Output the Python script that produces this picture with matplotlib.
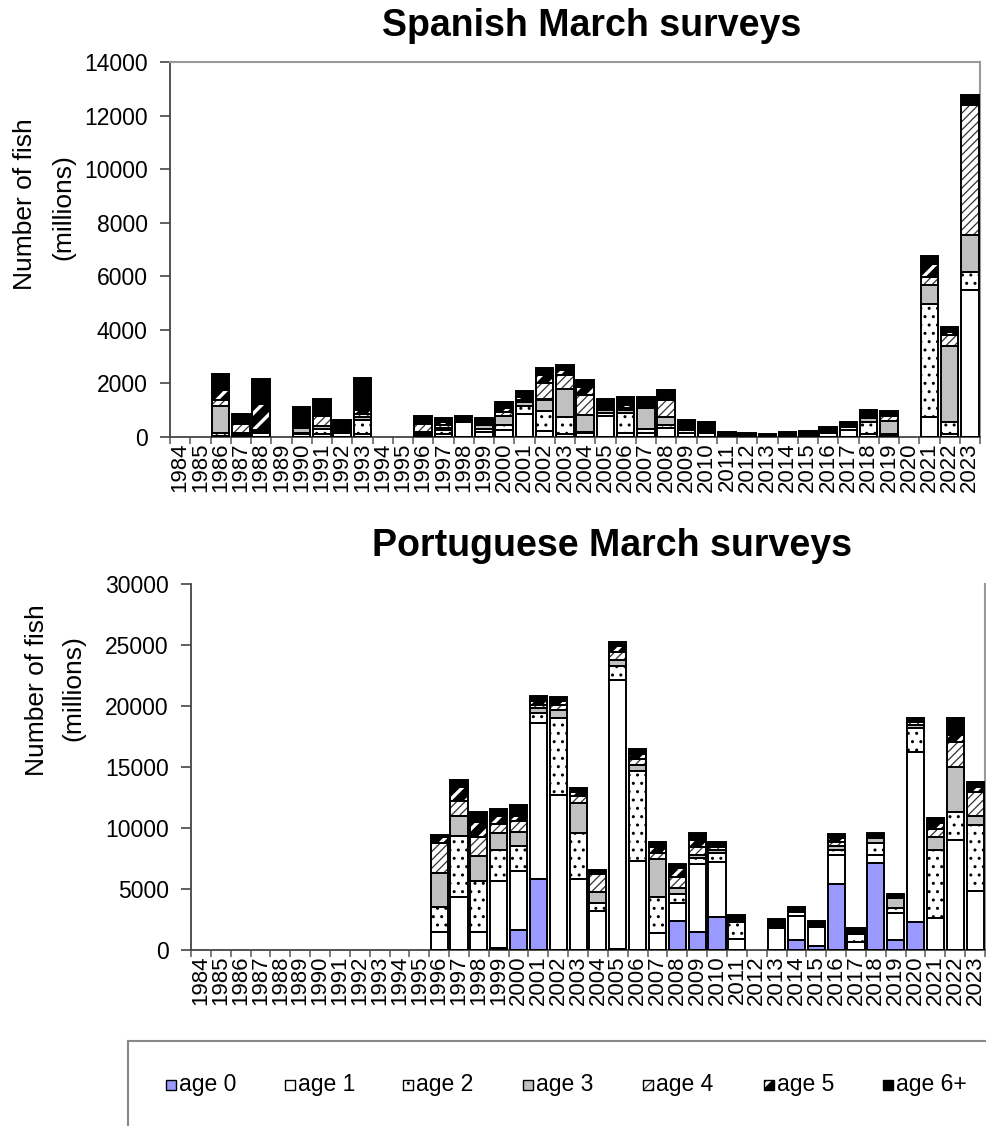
import numpy as np
import matplotlib
matplotlib.use("Agg")
import matplotlib.pyplot as plt
from matplotlib.patches import Rectangle
from matplotlib.lines import Line2D

plt.rcParams["font.family"] = ["Liberation Sans", "DejaVu Sans"]

years = list(range(1984, 2024))
age_labels = ["age 0", "age 1", "age 2", "age 3", "age 4", "age 5", "age 6+"]

# Spanish March surveys, number of fish (millions), 1984..2023
es_age0 = [0] * 40
es_age1 = [0, 0, 50, 50, 150, 0, 100, 100, 150, 100, 0, 0, 50, 100, 550, 200, 250, 850, 220, 100,
           150, 800, 150, 150, 350, 150, 150, 60, 50, 20, 60, 80, 150, 250, 100, 80, 0, 750, 100, 5500]
es_age2 = [0, 0, 100, 50, 30, 0, 50, 200, 30, 550, 0, 0, 50, 150, 30, 100, 200, 300, 750, 650,
           50, 100, 750, 150, 100, 100, 80, 30, 20, 10, 30, 40, 50, 120, 450, 30, 0, 4230, 460, 660]
es_age3 = [0, 0, 1000, 50, 20, 0, 200, 100, 30, 100, 0, 0, 100, 100, 20, 150, 350, 150, 430, 1050,
           620, 100, 100, 780, 280, 80, 50, 10, 10, 10, 10, 20, 30, 40, 150, 500, 0, 685, 2825, 1370]
es_age4 = [0, 0, 250, 350, 50, 0, 30, 400, 30, 100, 0, 0, 300, 100, 30, 50, 150, 100, 620, 500,
           740, 60, 100, 80, 640, 50, 30, 10, 10, 10, 10, 10, 20, 20, 50, 170, 0, 310, 410, 4850]
es_age5 = [0, 0, 350, 50, 1000, 0, 50, 50, 50, 150, 0, 0, 50, 100, 20, 50, 150, 100, 300, 190,
           300, 75, 100, 60, 30, 50, 30, 10, 10, 10, 10, 10, 10, 10, 30, 30, 0, 500, 125, 0]
es_age6 = [0, 0, 585, 300, 900, 0, 700, 565, 343, 1185, 0, 0, 230, 150, 130, 170, 215, 210, 260, 210,
           260, 280, 300, 280, 350, 200, 220, 60, 60, 40, 60, 60, 100, 130, 220, 160, 0, 275, 185, 375]

# Portuguese March surveys, number of fish (millions), 1984..2023
pt_age0 = [0] * 12 + [0, 0, 0, 200, 1640, 5820, 0, 0, 0, 100, 0, 0, 2400, 1500, 2680, 0, 0, 0,
                      820, 355, 5380, 0, 7160, 820, 2270, 0, 0, 0]
pt_age1 = [0] * 12 + [1500, 4320, 1500, 5460, 4810, 12760, 12700, 5820, 3200, 22000, 7320, 1370,
                      1420, 5550, 4560, 900, 0, 1780, 2000, 1560, 2400, 680, 630, 2190, 13930,
                      2650, 9020, 4860]
pt_age2 = [0] * 12 + [2050, 5000, 4125, 2515, 2100, 820, 6310, 3770, 630, 1150, 7380, 2950, 765,
                      465, 680, 1420, 0, 190, 330, 0, 410, 630, 1010, 410, 1970, 5550, 2320, 5380]
pt_age3 = [0] * 12 + [2730, 1700, 2050, 1390, 1150, 437, 680, 2460, 900, 550, 465, 3140, 520,
                      270, 270, 100, 0, 0, 0, 0, 330, 0, 355, 820, 270, 1040, 3690, 740]
pt_age4 = [0] * 12 + [2460, 1175, 1560, 790, 850, 275, 410, 600, 1500, 630, 490, 465, 900, 630,
                      270, 0, 0, 0, 0, 0, 355, 0, 0, 0, 270, 655, 2050, 1990]
pt_age5 = [0] * 12 + [490, 1150, 1230, 630, 465, 275, 270, 270, 200, 465, 410, 490, 680, 600,
                      140, 0, 0, 0, 0, 0, 270, 0, 0, 0, 0, 490, 545, 410]
pt_age6 = [0] * 12 + [220, 600, 875, 545, 875, 410, 330, 330, 100, 355, 410, 410, 355, 545, 270,
                      445, 0, 575, 410, 465, 330, 520, 465, 330, 330, 465, 1370, 355]

# (face, hatch, hatch colour, hatch linewidth) per age
STYLES = [
    ("#9999ff", None, "black", 1.0),
    ("white", None, "black", 1.0),
    ("white", "..", "black", 1.0),
    ("#c0c0c0", None, "black", 1.0),
    ("white", "////", "#333333", 0.9),
    ("black", "//", "white", 2.4),
    ("black", None, "black", 1.0),
]
WIDTH = 0.86
W, H = 986, 1126


def style_patch(p, hlw):
    if hasattr(p, "set_hatch_linewidth"):
        p.set_hatch_linewidth(hlw)


def stack(ax, series):
    x = np.arange(len(years))
    bottom = np.zeros(len(years))
    for vals, (fc, hatch, hc, hlw) in zip(series, STYLES):
        vals = np.asarray(vals, float)
        m = vals > 0
        with plt.rc_context({"hatch.linewidth": hlw}):
            bars = ax.bar(x[m], vals[m], WIDTH, bottom=bottom[m], color=fc, hatch=hatch,
                          edgecolor=hc, lw=0, zorder=2)
            for b in bars:
                style_patch(b, hlw)
        ax.bar(x[m], vals[m], WIDTH, bottom=bottom[m], fill=False, edgecolor="black",
               lw=1.4, zorder=3)
        bottom += vals


def setup(ax, ymax, ystep, frame_col):
    ax.set_xlim(-0.5, len(years) - 0.5)
    ax.set_ylim(0, ymax)
    ax.set_yticks(np.arange(0, ymax + 1, ystep))
    ax.set_xticks(np.arange(len(years)))
    ax.set_xticklabels([str(y) for y in years], rotation=90, fontsize=16)
    ax.set_xticks(np.arange(len(years) + 1) - 0.5, minor=True)
    ax.tick_params(axis="x", which="major", length=0, pad=4)
    ax.tick_params(axis="x", which="minor", length=5, width=1.2, color="#666", direction="out")
    ax.tick_params(axis="y", length=7, width=1.2, color="#444", direction="out", pad=9,
                   labelsize=16.5)
    for s in ("left", "bottom"):
        ax.spines[s].set_color("#444")
        ax.spines[s].set_linewidth(1.3)
    for s in ("top", "right"):
        ax.spines[s].set_color(frame_col)
        ax.spines[s].set_linewidth(1.5)


fig = plt.figure(figsize=(W / 100, H / 100), dpi=100)

# ---------------------------------------------------------------- Spanish
ax1 = fig.add_axes([170 / W, 1 - 437 / H, 810 / W, 375 / H])
stack(ax1, [es_age0, es_age1, es_age2, es_age3, es_age4, es_age5, es_age6])
setup(ax1, 14000, 2000, "#999999")
fig.text(592 / W, 1 - 36 / H, "Spanish March surveys", ha="center", va="baseline",
         fontsize=27, fontweight="bold")
fig.text(25 / W, 1 - 204 / H, "Number of fish", rotation=90, ha="center", va="center",
         fontsize=19)
fig.text(63 / W, 1 - 207 / H, "(millions)", rotation=90, ha="center", va="center",
         fontsize=19)

# ------------------------------------------------------------- Portuguese
ax2 = fig.add_axes([191 / W, 1 - 950 / H, 794 / W, 366 / H])
stack(ax2, [pt_age0, pt_age1, pt_age2, pt_age3, pt_age4, pt_age5, pt_age6])
setup(ax2, 30000, 5000, "#999999")
ax2.spines["top"].set_visible(False)
fig.text(612 / W, 1 - 556 / H, "Portuguese March surveys", ha="center", va="baseline",
         fontsize=27, fontweight="bold")
fig.text(37 / W, 1 - 690 / H, "Number of fish", rotation=90, ha="center", va="center",
         fontsize=19)
fig.text(73 / W, 1 - 688 / H, "(millions)", rotation=90, ha="center", va="center",
         fontsize=19)

# ----------------------------------------------------------------- legend
fig.add_artist(Line2D([128 / W, 1.0], [1 - 1041 / H] * 2, color="#888", lw=1.5))
fig.add_artist(Line2D([128 / W] * 2, [1 - 1041 / H, 0], color="#888", lw=1.5))
leg_x = [171, 290, 408, 528, 648, 769, 888]
ly = 1085
for lx, lab, (fc, hatch, hc, hlw) in zip(leg_x, age_labels, STYLES):
    with plt.rc_context({"hatch.linewidth": hlw}):
        r = Rectangle(((lx - 5) / W, 1 - (ly + 5) / H), 10 / W, 10 / H, facecolor=fc,
                      hatch=hatch, edgecolor=hc, lw=0, transform=fig.transFigure)
        style_patch(r, hlw)
        fig.add_artist(r)
    fig.add_artist(Rectangle(((lx - 5) / W, 1 - (ly + 5) / H), 10 / W, 10 / H, fill=False,
                             edgecolor="black", lw=1.0, transform=fig.transFigure))
    fig.text((lx + 8) / W, 1 - ly / H, lab, ha="left", va="center", fontsize=16.5)

fig.savefig("out.png", dpi=100, facecolor="white")
